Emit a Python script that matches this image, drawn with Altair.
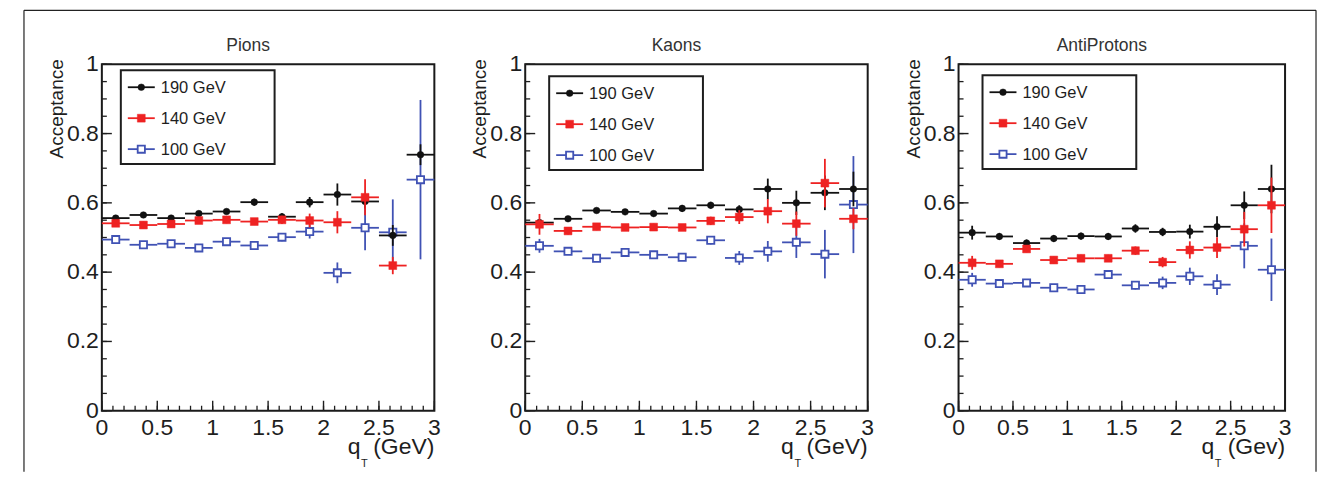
import altair as alt
import pandas as pd

# ---------------- data ----------------
bin_centers = [0.125, 0.375, 0.625, 0.875, 1.125, 1.375, 1.625, 1.875, 2.125, 2.375, 2.625, 2.875]
bin_half_width = 0.125
series_names = ["190 GeV", "140 GeV", "100 GeV"]
panel_titles = ["Pions", "Kaons", "AntiProtons"]
x_unit_titles = ["(GeV)", "(GeV)", "(Gev)"]
y_title = "Acceptance"

pions_190 = [0.556, 0.565, 0.556, 0.569, 0.575, 0.602, 0.560, 0.602, 0.624, 0.604, 0.506, 0.739]
pions_190_err = [0.008, 0.008, 0.008, 0.008, 0.008, 0.010, 0.010, 0.015, 0.032, 0.020, 0.030, 0.030]
pions_140 = [0.541, 0.536, 0.539, 0.549, 0.551, 0.546, 0.551, 0.549, 0.544, 0.616, 0.419, None]
pions_140_err = [0.010, 0.010, 0.010, 0.010, 0.010, 0.010, 0.012, 0.020, 0.032, 0.052, 0.025, None]
pions_100 = [0.494, 0.479, 0.482, 0.470, 0.488, 0.477, 0.501, 0.517, 0.398, 0.528, 0.515, 0.667]
pions_100_err = [0.010, 0.008, 0.008, 0.008, 0.008, 0.008, 0.012, 0.020, 0.030, 0.065, 0.095, 0.230]

kaons_190 = [0.543, 0.554, 0.578, 0.574, 0.569, 0.584, 0.593, 0.581, 0.640, 0.600, 0.629, 0.640]
kaons_190_err = [0.008, 0.008, 0.008, 0.008, 0.008, 0.010, 0.010, 0.012, 0.030, 0.035, 0.050, 0.050]
kaons_140 = [0.538, 0.519, 0.531, 0.529, 0.530, 0.529, 0.548, 0.559, 0.576, 0.540, 0.657, 0.554]
kaons_140_err = [0.030, 0.010, 0.010, 0.010, 0.010, 0.010, 0.012, 0.020, 0.035, 0.035, 0.070, 0.030]
kaons_100 = [0.476, 0.460, 0.440, 0.457, 0.450, 0.443, 0.492, 0.441, 0.460, 0.486, 0.452, 0.595]
kaons_100_err = [0.020, 0.010, 0.010, 0.010, 0.010, 0.010, 0.012, 0.020, 0.030, 0.045, 0.070, 0.140]

anti_190 = [0.514, 0.503, 0.484, 0.497, 0.504, 0.503, 0.526, 0.516, 0.517, 0.531, 0.593, 0.640]
anti_190_err = [0.020, 0.010, 0.010, 0.010, 0.010, 0.010, 0.012, 0.012, 0.020, 0.030, 0.040, 0.070]
anti_140 = [0.427, 0.424, 0.467, 0.435, 0.440, 0.440, 0.462, 0.429, 0.464, 0.471, 0.524, 0.593]
anti_140_err = [0.020, 0.010, 0.010, 0.010, 0.010, 0.010, 0.012, 0.015, 0.025, 0.030, 0.050, 0.080]
anti_100 = [0.378, 0.367, 0.369, 0.355, 0.350, 0.393, 0.362, 0.369, 0.388, 0.364, 0.476, 0.407]
anti_100_err = [0.020, 0.010, 0.010, 0.010, 0.010, 0.010, 0.012, 0.018, 0.025, 0.030, 0.065, 0.090]

x_label_values = [0, 0.5, 1, 1.5, 2, 2.5, 3]
x_tick_labels = ["0", "0.5", "1", "1.5", "2", "2.5", "3"]
y_label_values = [0, 0.2, 0.4, 0.6, 0.8, 1]
y_tick_labels = ["0", "0.2", "0.4", "0.6", "0.8", "1"]
x_minor_ticks = [round(i * 0.1, 2) for i in range(31)]
y_minor_ticks = [round(i * 0.05, 2) for i in range(21)]

panels_data = [
    {"190 GeV": (pions_190, pions_190_err), "140 GeV": (pions_140, pions_140_err), "100 GeV": (pions_100, pions_100_err)},
    {"190 GeV": (kaons_190, kaons_190_err), "140 GeV": (kaons_140, kaons_140_err), "100 GeV": (kaons_100, kaons_100_err)},
    {"190 GeV": (anti_190, anti_190_err), "140 GeV": (anti_140, anti_140_err), "100 GeV": (anti_100, anti_100_err)},
]

# ---------------- style ----------------
FONT = "Liberation Sans"
INK = "#1e1e1e"
colors = {"190 GeV": "#111111", "140 GeV": "#ee2222", "100 GeV": "#4052b4"}
draw_order = ["100 GeV", "190 GeV", "140 GeV"]

H = 347
widths = [333, 343, 327]
SPACING = 91
legend_offsets = [(19, 6), (24, 12), (24, 11)]
q_offsets = [(74, 70), (74, 70), (71, 67)]
title_dx = -20

x_scale = alt.Scale(domain=[0, 3], nice=False, zero=False)
y_scale = alt.Scale(domain=[0, 1], nice=False, zero=False)
one_row = pd.DataFrame({"k": [0]})


def series_df(vals, errs):
    rows = []
    for xc, v, e in zip(bin_centers, vals, errs):
        if v is None:
            continue
        rows.append({"x": xc, "xlo": xc - bin_half_width, "xhi": xc + bin_half_width,
                     "y": v, "ylo": v - e, "yhi": v + e})
    return pd.DataFrame(rows)


def marker_kw(name):
    c = colors[name]
    if name == "190 GeV":
        return dict(shape="circle", filled=True, fill=c, stroke=c, size=44, strokeWidth=0.5, opacity=1)
    if name == "140 GeV":
        return dict(shape="square", filled=True, fill=c, stroke=c, size=62, strokeWidth=0.5, opacity=1)
    return dict(shape="square", filled=False, fill="white", stroke=c, size=52, strokeWidth=1.8, opacity=1)


def make_panel(i):
    w = widths[i]
    layers = []
    src = alt.Chart(one_row)

    xlab = pd.DataFrame({"v": x_label_values, "t": x_tick_labels})
    ylab = pd.DataFrame({"v": y_label_values, "t": y_tick_labels})
    xmin = pd.DataFrame({"v": x_minor_ticks})
    ymin = pd.DataFrame({"v": y_minor_ticks})

    # inside ticks (major / minor)
    layers.append(alt.Chart(xlab).mark_rule(color=INK, strokeWidth=1.4).encode(
        x=alt.X("v:Q", scale=x_scale, axis=None), y=alt.value(H), y2=alt.value(H - 10)))
    layers.append(alt.Chart(ylab).mark_rule(color=INK, strokeWidth=1.4).encode(
        y=alt.Y("v:Q", scale=y_scale, axis=None), x=alt.value(0), x2=alt.value(10)))
    layers.append(alt.Chart(xmin).mark_rule(color=INK, strokeWidth=1.3).encode(
        x=alt.X("v:Q", scale=x_scale, axis=None), y=alt.value(H), y2=alt.value(H - 5)))
    layers.append(alt.Chart(ymin).mark_rule(color=INK, strokeWidth=1.3).encode(
        y=alt.Y("v:Q", scale=y_scale, axis=None), x=alt.value(0), x2=alt.value(5)))

    # tick labels
    layers.append(alt.Chart(xlab).mark_text(align="center", baseline="alphabetic", fontSize=23,
                                            font=FONT, color=INK).encode(
        x=alt.X("v:Q", scale=x_scale, axis=None), y=alt.value(H + 24), text="t:N"))
    layers.append(alt.Chart(ylab).mark_text(align="right", baseline="middle", fontSize=23,
                                            font=FONT, color=INK).encode(
        y=alt.Y("v:Q", scale=y_scale, axis=None), x=alt.value(-3), text="t:N"))

    # y title
    layers.append(src.mark_text(text=y_title, angle=270, align="right", baseline="alphabetic",
                                fontSize=19, font=FONT, color=INK).encode(
        x=alt.value(-39), y=alt.value(-5)))

    # panel title
    layers.append(src.mark_text(text=panel_titles[i], align="center", baseline="alphabetic",
                                fontSize=17.5, font=FONT, color="#333333").encode(
        x=alt.value(w / 2 + title_dx), y=alt.value(-13)))

    # data
    for name in draw_order:
        vals, errs = panels_data[i][name]
        df = series_df(vals, errs)
        c = colors[name]
        base = alt.Chart(df)
        layers.append(base.mark_rule(color=c, strokeWidth=1.8).encode(
            x=alt.X("xlo:Q", scale=x_scale, axis=None), x2="xhi:Q",
            y=alt.Y("y:Q", scale=y_scale, axis=None)))
        layers.append(base.mark_rule(color=c, strokeWidth=1.8).encode(
            x=alt.X("x:Q", scale=x_scale, axis=None),
            y=alt.Y("ylo:Q", scale=y_scale, axis=None), y2="yhi:Q"))
        layers.append(base.mark_point(**marker_kw(name)).encode(
            x=alt.X("x:Q", scale=x_scale, axis=None),
            y=alt.Y("y:Q", scale=y_scale, axis=None)))

    # legend
    bx, by = legend_offsets[i]
    layers.append(src.mark_rect(fill="white", stroke=INK, strokeWidth=2).encode(
        x=alt.value(bx), x2=alt.value(bx + 154), y=alt.value(by), y2=alt.value(by + 94)))
    for k, name in enumerate(series_names):
        yy = by + 17 + 31 * k
        c = colors[name]
        layers.append(src.mark_rule(color=c, strokeWidth=1.8).encode(
            x=alt.value(bx + 7), x2=alt.value(bx + 34), y=alt.value(yy)))
        layers.append(src.mark_point(**marker_kw(name)).encode(
            x=alt.value(bx + 20.5), y=alt.value(yy)))
        layers.append(src.mark_text(text=name, align="left", baseline="middle", fontSize=16.5,
                                    font=FONT, color=INK).encode(
            x=alt.value(bx + 40), y=alt.value(yy + 1)))

    # x axis title  q_T (GeV)
    q_dx, t_dx = q_offsets[i]
    layers.append(src.mark_text(text=x_unit_titles[i], align="right", baseline="alphabetic",
                                fontSize=23, font=FONT, color=INK).encode(
        x=alt.value(w), y=alt.value(H + 43)))
    layers.append(src.mark_text(text="q", align="right", baseline="alphabetic",
                                fontSize=23, font=FONT, color=INK).encode(
        x=alt.value(w - q_dx), y=alt.value(H + 43)))
    layers.append(src.mark_text(text="T", align="center", baseline="alphabetic",
                                fontSize=11, font=FONT, color=INK).encode(
        x=alt.value(w - t_dx), y=alt.value(H + 56)))

    # outer figure frame
    if i == 0:
        layers.append(src.mark_rule(color="#222222", strokeWidth=1.2).encode(
            x=alt.value(-78), y=alt.value(-54), y2=alt.value(H + 61)))
        layers.append(src.mark_rule(color="#222222", strokeWidth=1.2).encode(
            x=alt.value(-78), x2=alt.value(1216), y=alt.value(-54)))
    if i == 2:
        layers.append(src.mark_rule(color="#222222", strokeWidth=1.2).encode(
            x=alt.value(w + 31), y=alt.value(-54), y2=alt.value(H + 61)))

    return alt.layer(*layers).properties(width=w, height=H)


chart = alt.hconcat(*[make_panel(i) for i in range(3)], spacing=SPACING, bounds="flush").properties(
    padding={"left": 14, "top": 0, "right": 4, "bottom": 0}
).configure_view(stroke="#1a1a1a", strokeWidth=2)

chart.save("out.html", embed_options={"renderer": "svg", "actions": False})
